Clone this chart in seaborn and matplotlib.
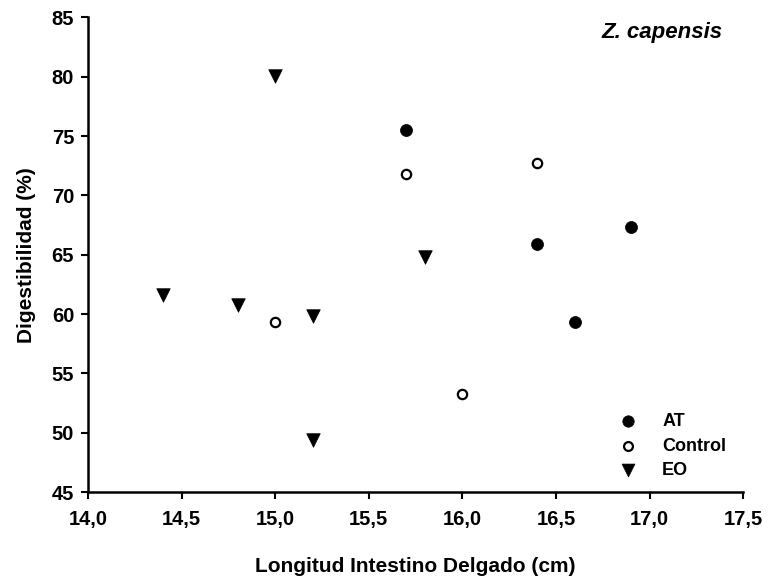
import numpy as np
import pandas as pd
import matplotlib
matplotlib.use("Agg")
import matplotlib.pyplot as plt
from matplotlib.ticker import FuncFormatter
import seaborn as sns

# --- data ---
at_x = [15.7, 16.4, 16.9, 16.6]
at_y = [75.5, 65.9, 67.3, 59.3]

control_x = [15.7, 16.4, 15.0, 16.0]
control_y = [71.8, 72.7, 59.35, 53.3]

eo_x = [15.0, 14.4, 14.8, 15.2, 15.8, 15.2]
eo_y = [80.1, 61.6, 60.8, 59.8, 64.8, 49.4]

x_ticks = [14.0, 14.5, 15.0, 15.5, 16.0, 16.5, 17.0, 17.5]
y_ticks = [45, 50, 55, 60, 65, 70, 75, 80, 85]

df = pd.concat([
    pd.DataFrame({'len': at_x, 'dig': at_y, 'grupo': 'AT'}),
    pd.DataFrame({'len': control_x, 'dig': control_y, 'grupo': 'Control'}),
    pd.DataFrame({'len': eo_x, 'dig': eo_y, 'grupo': 'EO'}),
])

sns.set_style('ticks')
plt.rcParams['font.family'] = ['Liberation Sans', 'DejaVu Sans']
plt.rcParams['font.weight'] = 'bold'
plt.rcParams['text.color'] = 'black'
plt.rcParams['axes.labelcolor'] = 'black'

fig = plt.figure(figsize=(7.69, 5.83), dpi=100)
ax = fig.add_axes([0.1145, 0.156, 0.852, 0.814])

# filled circles
sns.scatterplot(data=df[df.grupo == 'AT'], x='len', y='dig', ax=ax,
                marker='o', s=75, color='black', edgecolor='black',
                linewidth=0.5, label='AT')
# open circles
sns.scatterplot(data=df[df.grupo == 'Control'], x='len', y='dig', ax=ax,
                marker='o', s=45, facecolor='white', edgecolor='black',
                linewidth=1.6, label='Control')
# triangles
sns.scatterplot(data=df[df.grupo == 'EO'], x='len', y='dig', ax=ax,
                marker='v', s=95, color='black', edgecolor='black',
                linewidth=0.5, label='EO')

ax.set_xlim(14.0, 17.5)
ax.set_ylim(45, 85)
ax.set_xticks(x_ticks)
ax.set_yticks(y_ticks)
ax.xaxis.set_major_formatter(FuncFormatter(lambda v, p: f"{v:.1f}".replace('.', ',')))
ax.tick_params(axis='both', labelsize=14.5, length=5, width=1.5, direction='out', colors='black')
ax.tick_params(axis='x', pad=8)
ax.tick_params(axis='y', pad=5)
for lab in ax.get_xticklabels() + ax.get_yticklabels():
    lab.set_fontweight('bold')

sns.despine(ax=ax)
for sp in ['left', 'bottom']:
    ax.spines[sp].set_linewidth(1.8)
    ax.spines[sp].set_color('black')

ax.set_xlabel('Longitud Intestino Delgado (cm)', fontsize=15, fontweight='bold', labelpad=20)
ax.set_ylabel('Digestibilidad (%)', fontsize=15, fontweight='bold', labelpad=11)

ax.text(0.968, 0.968, 'Z. capensis', transform=ax.transAxes, ha='right', va='center',
        fontsize=16, fontweight='bold', style='italic')

leg = ax.legend(loc='lower right', bbox_to_anchor=(0.985, 0.012), frameon=False,
                fontsize=13, handletextpad=0.9, labelspacing=0.42, borderaxespad=0,
                markerscale=0.95)
for t in leg.get_texts():
    t.set_fontweight('bold')

fig.savefig('out.png', dpi=100)
